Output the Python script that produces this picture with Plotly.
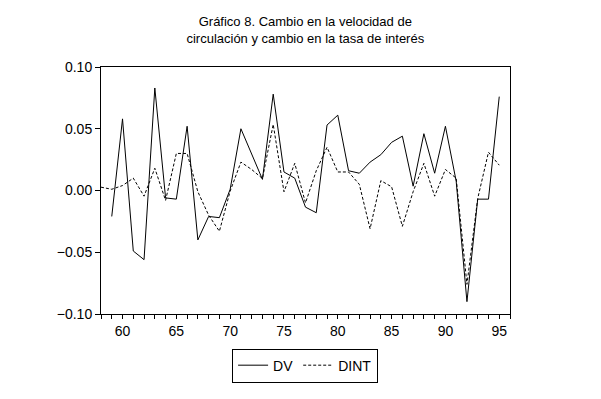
import plotly.graph_objects as go

years_dv = list(range(59, 96))
dv = [-0.021, 0.058, -0.049, -0.056, 0.083, -0.006, -0.007, 0.052, -0.040, -0.021,
      -0.022, 0.001, 0.050, 0.029, 0.009, 0.078, 0.015, 0.010, -0.0135, -0.018,
      0.053, 0.061, 0.016, 0.014, 0.023, 0.029, 0.039, 0.044, 0.0035, 0.046,
      0.014, 0.052, 0.0075, -0.090, -0.007, -0.007, 0.076]

years_dint = list(range(58, 96))
dint = [0.0027, 0.001, 0.004, 0.010, -0.0046, 0.018, -0.008, 0.030, 0.030, -0.001,
        -0.020, -0.033, -0.0005, 0.023, 0.017, 0.0097, 0.0535, -0.001, 0.022, -0.010,
        0.016, 0.035, 0.015, 0.015, 0.005, -0.031, 0.008, 0.003, -0.029, -0.001,
        0.022, -0.0046, 0.017, 0.010, -0.076, -0.0065, 0.031, 0.0205]

xticks = [60, 65, 70, 75, 80, 85, 90, 95]
yticks = [-0.10, -0.05, 0.00, 0.05, 0.10]

fig = go.Figure()
fig.add_trace(go.Scatter(x=years_dv, y=dv, mode="lines", name="DV",
                         line=dict(color="black", width=1)))
fig.add_trace(go.Scatter(x=years_dint, y=dint, mode="lines", name="DINT",
                         line=dict(color="black", width=1, dash="3px,2px")))

fig.update_layout(
    width=601, height=399,
    margin=dict(l=101, r=91, t=67, b=85),
    paper_bgcolor="white", plot_bgcolor="white",
    font=dict(family="Liberation Sans, Arial, sans-serif", color="black", size=13),
    title=dict(text="Gráfico 8. Cambio en la velocidad de<br>circulación y cambio en la tasa de interés",
               x=0.508, xanchor="center", y=0.935, yanchor="top",
               font=dict(size=13)),
    showlegend=True,
    legend=dict(orientation="h", x=0.499, xanchor="center", y=-0.14, yanchor="top",
                bordercolor="black", borderwidth=1, font=dict(size=14),
                itemwidth=30, tracegroupgap=0),
)
fig.update_xaxes(range=[58, 96], tickvals=xticks, ticks="outside", ticklen=4,
                 tickcolor="black", showgrid=False, zeroline=False,
                 showline=True, linecolor="black", linewidth=1, mirror=True,
                 tickfont=dict(size=14),
                 minor=dict(dtick=1, ticks="outside", ticklen=4, tickcolor="black"))
fig.update_yaxes(range=[-0.10, 0.10], tickvals=yticks, tickformat=".2f",
                 ticks="outside", ticklen=5, tickcolor="black", showgrid=False,
                 zeroline=False, showline=True, linecolor="black", linewidth=1,
                 tickfont=dict(size=14), mirror=True)

fig.write_html("out.html", config={"displayModeBar": False},
               post_script="document.body.style.margin='0';")
